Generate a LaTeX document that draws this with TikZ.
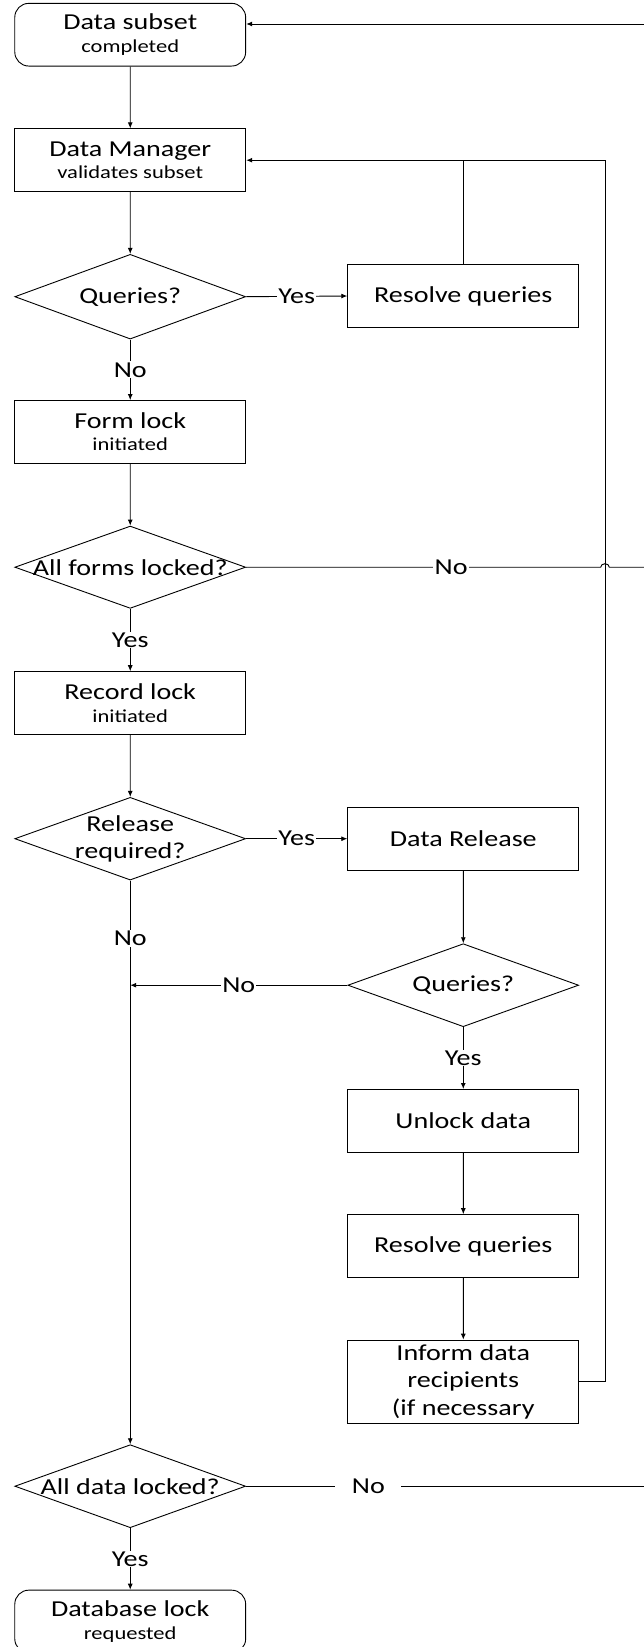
\documentclass[tikz,border=0pt]{standalone}
\usepackage{fontspec}
\setmainfont{Carlito}
\usetikzlibrary{shapes.geometric,arrows.meta}
\newcommand{\bigf}{\fontsize{22.8}{27.5}\selectfont}
\newcommand{\twof}{\fontsize{22.8}{22.3}\selectfont}
\newcommand{\smallf}{\fontsize{18.3}{22.3}\selectfont}
\begin{document}
\begin{tikzpicture}[x=1pt,y=-1pt,xscale=1.232,transform shape,
  line width=0.9pt,
  box/.style={draw, rectangle, minimum width=187.4pt, minimum height=62.7pt, inner sep=0pt, align=center, font=\bigf},
  twobox/.style={box, font=\twof},
  term/.style={twobox, rounded corners=14pt},
  dec/.style={draw, diamond, minimum width=187.4pt, minimum height=83pt, inner sep=0pt},
  dtext/.style={font=\bigf, align=center, inner sep=0pt},
  arr/.style={-{Latex[length=6pt,width=5pt]}},
  lbl/.style={font=\bigf, fill=white, inner sep=1pt},
]
\clip (0,0) rectangle (522.7,1647);
\fill[white] (0,0) rectangle (522.7,1647);

% nodes
\node[term] (ds) at (105.7,34.7) {Data subset\\{\smallf completed}};
\node[twobox] (dm) at (105.7,160.2) {Data Manager\\{\smallf validates subset}};
\node[dec, minimum height=84.7pt, label={[dtext]center:Queries?}] (q1) at (105.7,296.7) {};
\node[box] (rq1) at (376,296) {Resolve queries};
\node[twobox] (fl) at (105.7,431.9) {Form lock\\{\smallf initiated}};
\node[dec, minimum height=82.3pt, label={[dtext]center:All forms locked?}] (afl) at (105.7,567.2) {};
\node[twobox] (rl) at (105.7,703) {Record lock\\{\smallf initiated}};
\node[dec, minimum height=82.7pt, label={[dtext]center:Release\\required?}] (rr) at (105.7,838.7) {};
\node[box] (dr) at (376,838.7) {Data Release};
\node[dec, label={[dtext]center:Queries?}] (q2) at (376,985.2) {};
\node[box] (ud) at (376,1120.8) {Unlock data};
\node[box] (rq2) at (376,1246) {Resolve queries};
\node[box, minimum height=83.3pt] (inf) at (376,1381.7) {Inform data\\recipients\\(if necessary};
\node[dec, label={[dtext]center:All data locked?}] (adl) at (105.7,1486.2) {};
\node[term] (dbl) at (105.7,1621.5) {Database lock\\{\smallf requested}};

% free ends and corners
\coordinate (topR) at (522.7,24);
\coordinate (loopR) at (491,160.2);
\coordinate (jumpL) at (487.5,567.2);
\coordinate (rightF) at (522.7,567.2);
\coordinate (rightD) at (522.7,1486.2);

% connectors
\draw[arr] (topR) -- (topR -| ds.east);
\draw[arr] (ds) -- (dm);
\draw[arr] (dm) -- (q1);
\draw[arr] (q1.east) -- node[lbl]{Yes} (rq1.west);
\draw (rq1.north) -- (rq1.north |- dm.east);
\draw[arr] (inf.east) -| (loopR) -- (dm.east);
\draw[arr] (q1.south) -- node[lbl]{No} (fl.north);
\draw[arr] (fl) -- (afl);
\draw (afl.east) -- node[lbl,pos=0.578]{No} (jumpL)
  arc[start angle=180, end angle=360, radius=3.5] -- (rightF);
\draw[arr] (afl.south) -- node[lbl]{Yes} (rl.north);
\draw[arr] (rl) -- (rr);
\draw[arr] (rr.east) -- node[lbl]{Yes} (dr.west);
\draw[arr] (dr) -- (q2);
\draw[arr] (q2.west) -- node[lbl]{No} (q2.west -| rr.south);
\draw[arr] (rr.south) -- node[lbl,pos=0.103]{No} (adl.north);
\draw[arr] (q2.south) -- node[lbl]{Yes} (ud.north);
\draw[arr] (ud) -- (rq2);
\draw[arr] (rq2) -- (inf);
\draw (adl.east) -- node[lbl,pos=0.307,inner xsep=13.5pt]{No} (rightD);
\draw[arr] (adl.south) -- node[lbl]{Yes} (dbl.north);
\end{tikzpicture}
\end{document}
